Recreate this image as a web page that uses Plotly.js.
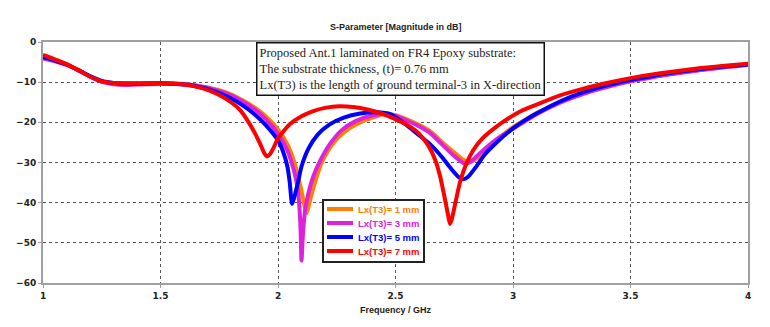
<!DOCTYPE html>
<html>
<head>
<meta charset="utf-8">
<script src="https://cdn.plot.ly/plotly-3.0.1.min.js"></script>
<style>
  html, body { margin: 0; padding: 0; background: #fff; }
  #chart { width: 770px; height: 327px; }
</style>
</head>
<body>
<div id="chart"></div>
<script>
// Lx(T3) = 1 mm
var f1 = [1.0, 1.05, 1.1, 1.15, 1.2, 1.25, 1.3, 1.35, 1.4, 1.5, 1.55, 1.6, 1.65, 1.7, 1.75, 1.8, 1.85, 1.9, 1.95, 2.0, 2.04, 2.07, 2.09, 2.105, 2.115, 2.122, 2.13, 2.145, 2.165, 2.19, 2.23, 2.28, 2.33, 2.4, 2.45, 2.5, 2.55, 2.6, 2.65, 2.7, 2.75, 2.79, 2.815, 2.84, 2.87, 2.91, 2.96, 3.0, 3.05, 3.1, 3.2, 3.3, 3.4, 3.5, 3.6, 3.7, 3.8, 3.9, 4.0];
var s1 = [-3.5, -4.4, -5.5, -7.0, -8.6, -9.8, -10.2, -10.3, -10.3, -10.3, -10.3, -10.5, -10.8, -11.3, -12.0, -13.0, -14.5, -16.3, -18.6, -21.8, -25.5, -30.0, -34.5, -38.5, -41.5, -42.6, -41.0, -37.5, -33.5, -29.5, -25.6, -22.5, -20.6, -18.9, -18.0, -18.2, -19.3, -20.6, -22.3, -25.0, -27.5, -29.4, -29.9, -29.2, -27.7, -25.4, -23.0, -21.2, -19.4, -17.7, -14.9, -12.7, -11.0, -9.7, -8.6, -7.7, -6.9, -6.2, -5.6];

// Lx(T3) = 3 mm
var f3 = [1.0, 1.05, 1.1, 1.15, 1.2, 1.25, 1.3, 1.35, 1.4, 1.5, 1.55, 1.6, 1.65, 1.7, 1.75, 1.8, 1.85, 1.9, 1.95, 2.0, 2.04, 2.07, 2.085, 2.095, 2.1, 2.106, 2.115, 2.13, 2.15, 2.18, 2.22, 2.27, 2.33, 2.4, 2.45, 2.5, 2.55, 2.6, 2.65, 2.7, 2.75, 2.785, 2.8, 2.82, 2.85, 2.9, 2.95, 3.0, 3.05, 3.1, 3.2, 3.3, 3.4, 3.5, 3.6, 3.7, 3.8, 3.9, 4.0];
var s3 = [-4.1, -4.8, -5.7, -7.0, -8.6, -9.9, -10.5, -10.7, -10.6, -10.4, -10.4, -10.5, -10.8, -11.4, -12.2, -13.3, -14.8, -16.7, -19.3, -22.8, -27.0, -32.5, -37.0, -45.0, -54.4, -48.0, -42.0, -37.5, -33.5, -29.5, -25.5, -22.0, -19.7, -18.3, -17.9, -18.4, -19.6, -21.0, -22.8, -25.6, -28.4, -30.0, -30.4, -29.8, -28.2, -25.6, -23.4, -21.6, -19.8, -18.0, -15.1, -12.9, -11.2, -9.8, -8.7, -7.8, -7.0, -6.3, -5.7];

// Lx(T3) = 5 mm
var f5 = [1.0, 1.05, 1.1, 1.15, 1.2, 1.25, 1.3, 1.35, 1.4, 1.5, 1.55, 1.6, 1.65, 1.7, 1.75, 1.8, 1.85, 1.9, 1.95, 2.0, 2.02, 2.04, 2.05, 2.06, 2.07, 2.085, 2.1, 2.13, 2.17, 2.22, 2.28, 2.35, 2.42, 2.48, 2.55, 2.6, 2.65, 2.7, 2.74, 2.77, 2.79, 2.81, 2.84, 2.88, 2.93, 3.0, 3.05, 3.1, 3.2, 3.3, 3.4, 3.5, 3.6, 3.7, 3.8, 3.9, 4.0];
var s5 = [-3.8, -4.6, -5.6, -7.0, -8.5, -9.7, -10.2, -10.4, -10.4, -10.3, -10.4, -10.6, -11.0, -11.7, -12.7, -14.0, -15.8, -18.0, -20.8, -24.5, -27.0, -31.0, -35.0, -40.3, -38.5, -35.0, -31.0, -26.5, -23.0, -20.5, -18.8, -17.8, -17.5, -18.0, -20.8, -23.2, -25.6, -28.8, -31.8, -33.7, -34.2, -33.5, -31.3, -28.0, -25.0, -21.5, -19.5, -17.8, -14.8, -12.5, -10.8, -9.5, -8.4, -7.5, -6.7, -6.1, -5.6];

// Lx(T3) = 7 mm
var f7 = [1.0, 1.05, 1.1, 1.15, 1.2, 1.25, 1.3, 1.4, 1.5, 1.6, 1.65, 1.7, 1.75, 1.8, 1.84, 1.87, 1.9, 1.925, 1.94, 1.953, 1.965, 1.98, 2.0, 2.05, 2.1, 2.15, 2.2, 2.26, 2.32, 2.38, 2.44, 2.5, 2.56, 2.6, 2.64, 2.67, 2.69, 2.71, 2.725, 2.732, 2.74, 2.755, 2.775, 2.8, 2.83, 2.87, 2.92, 2.97, 3.03, 3.1, 3.2, 3.3, 3.4, 3.5, 3.6, 3.7, 3.8, 3.9, 4.0];
var s7 = [-3.2, -4.3, -5.5, -7.0, -8.6, -9.8, -10.2, -10.3, -10.3, -10.6, -11.1, -11.9, -13.2, -15.0, -17.0, -19.5, -22.5, -25.5, -27.5, -28.5, -28.0, -26.5, -24.0, -20.5, -18.5, -17.2, -16.4, -16.0, -16.2, -16.8, -17.8, -19.2, -21.0, -22.8, -25.8, -29.5, -33.5, -39.0, -43.5, -45.3, -44.0, -40.0, -34.8, -30.5, -27.0, -24.0, -21.5, -19.4, -17.3, -15.6, -13.3, -11.6, -10.2, -9.0, -8.0, -7.2, -6.5, -5.9, -5.4];

var names = ['Lx(T3)= 1 mm', 'Lx(T3)= 3 mm', 'Lx(T3)= 5 mm', 'Lx(T3)= 7 mm'];
var colors = ['#ff8000', '#dd22dd', '#0000ff', '#ff0000'];
var freqs = [f1, f3, f5, f7];
var mags = [s1, s3, s5, s7];

var noteLines = [
  'Proposed Ant.1 laminated on FR4 Epoxy substrate:',
  'The substrate thickness, (t)= 0.76 mm',
  'Lx(T3) is the length of ground terminal-3 in X-direction'
];

var data = [];
for (var i = 0; i < names.length; i++) {
  data.push({
    x: freqs[i],
    y: mags[i],
    name: names[i],
    type: 'scatter',
    mode: 'lines',
    line: {color: colors[i], width: 4, shape: 'spline', smoothing: 0.6},
    showlegend: false
  });
}

// legend drawn by hand so the row spacing matches
var shapes = [];
var annotations = [];
var L = 43, T = 42, W = 705, H = 241;
function px(v) { return (v - L) / W; }
function py(v) { return 1 - (v - T) / H; }

shapes.push({type: 'rect', xref: 'paper', yref: 'paper',
  x0: px(323), x1: px(424), y0: py(200), y1: py(262),
  line: {color: '#222', width: 2}, fillcolor: '#fff', layer: 'above'});
for (var j = 0; j < names.length; j++) {
  var yy = 209 + j * 14;
  shapes.push({type: 'line', xref: 'paper', yref: 'paper',
    x0: px(327), x1: px(353), y0: py(yy), y1: py(yy),
    line: {color: colors[j], width: 4}, layer: 'above'});
  annotations.push({xref: 'paper', yref: 'paper', x: px(356), y: py(yy),
    xanchor: 'left', yanchor: 'middle', showarrow: false,
    text: '<b>' + names[j] + '</b>',
    font: {family: 'Liberation Sans, Arial, sans-serif', size: 9.5, color: colors[j]}});
}

annotations.push({
  xref: 'paper', yref: 'paper', x: px(256), y: 1,
  xanchor: 'left', yanchor: 'top', align: 'left', showarrow: false,
  text: noteLines.join('<br>'),
  font: {family: 'Liberation Serif, Times New Roman, serif', size: 12.5, color: '#222'},
  bgcolor: '#fff', bordercolor: '#111', borderwidth: 1.5, borderpad: 2
});

// chart title
annotations.push({
  xref: 'paper', yref: 'paper', x: 0.5, y: py(27),
  xanchor: 'center', yanchor: 'middle', showarrow: false,
  text: '<b>S-Parameter [Magnitude in dB]</b>',
  font: {family: 'Liberation Sans, Arial, sans-serif', size: 9, color: '#222'}
});

var layout = {
  width: 770,
  height: 327,
  margin: {l: 43, r: 22, t: 42, b: 44},
  paper_bgcolor: '#fff',
  plot_bgcolor: '#fff',
  xaxis: {
    range: [1, 4], dtick: 0.5, tick0: 1,
    showgrid: true, gridcolor: '#555', griddash: 'dot', gridwidth: 1,
    showline: true, mirror: true, linecolor: '#a0a0a0', linewidth: 2,
    ticks: 'outside', ticklen: 3, tickcolor: '#a0a0a0',
    zeroline: false,
    tickfont: {family: 'DejaVu Sans, Verdana, sans-serif', size: 9, color: '#222', weight: 'bold'},
    title: {text: '<b>Frequency / GHz</b>', standoff: 7,
      font: {family: 'Liberation Sans, Arial, sans-serif', size: 9, color: '#222'}}
  },
  yaxis: {
    range: [-60, 0], dtick: 10,
    showgrid: true, gridcolor: '#555', griddash: 'dot', gridwidth: 1,
    showline: true, mirror: true, linecolor: '#a0a0a0', linewidth: 2,
    ticks: 'outside', ticklen: 3, tickcolor: '#a0a0a0',
    zeroline: false,
    tickfont: {family: 'DejaVu Sans, Verdana, sans-serif', size: 9, color: '#222', weight: 'bold'}
  },
  shapes: shapes,
  annotations: annotations,
  showlegend: false
};

Plotly.newPlot('chart', data, layout, {staticPlot: true});
</script>
</body>
</html>
